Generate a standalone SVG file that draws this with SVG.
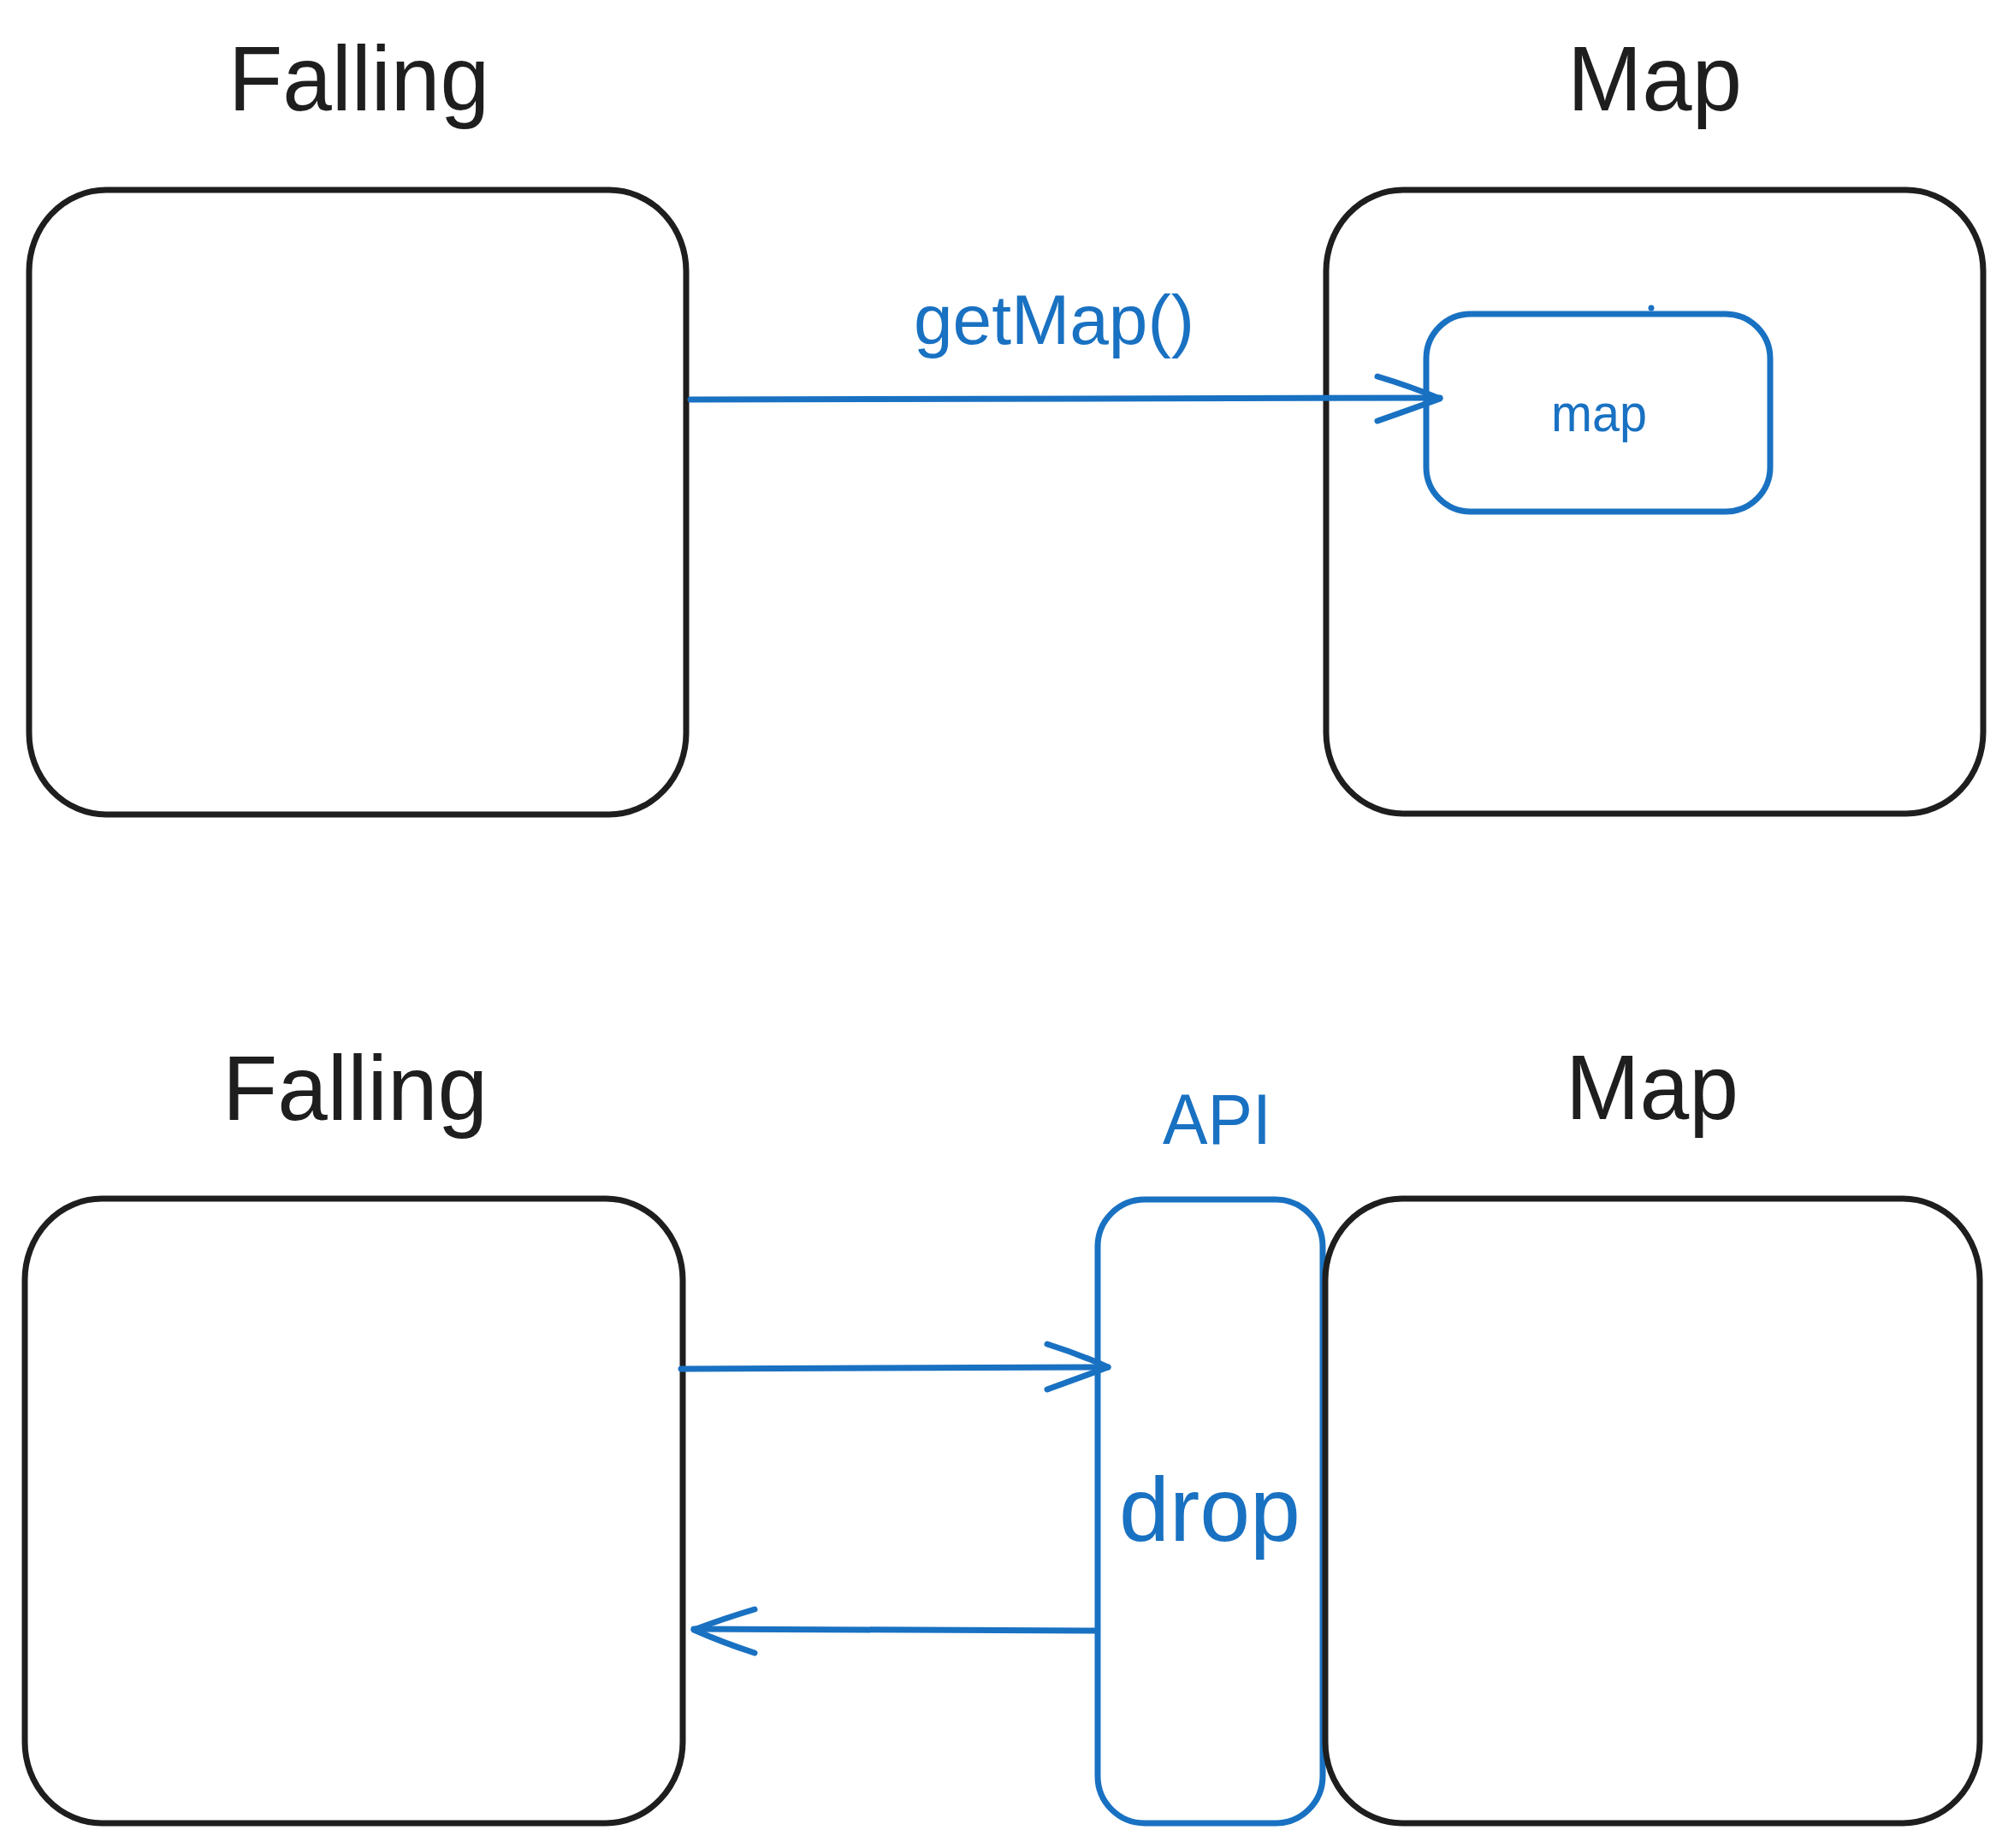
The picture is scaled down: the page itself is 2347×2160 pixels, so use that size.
<svg xmlns="http://www.w3.org/2000/svg" width="2347" height="2160" viewBox="0 0 2347 2160">
<style>
.bg{fill:#ffffff}
.box{fill:none;stroke:#1e1e1e;stroke-width:7;stroke-linejoin:round;stroke-linecap:round}
.bbox{fill:none;stroke:#1971c2;stroke-width:7;stroke-linejoin:round;stroke-linecap:round}
.title{font-family:"Liberation Sans",Arial,Helvetica,sans-serif;fill:#1e1e1e}
.blue{font-family:"Liberation Sans",Arial,Helvetica,sans-serif;fill:#1971c2}
.conn{fill:none;stroke:#1971c2;stroke-width:7;stroke-linecap:round;stroke-linejoin:round}
</style>
<rect class="bg" x="0" y="0" width="2347" height="2160"/>

<g id="falling-top">
  <rect class="box" x="34" y="222" width="768" height="730" rx="90" ry="95"/>
  <text class="title" x="267" y="129" font-size="108" textLength="305" lengthAdjust="spacingAndGlyphs">Falling</text>
</g>

<g id="map-top">
  <rect class="box" x="1550" y="222" width="768" height="729" rx="90" ry="95"/>
  <text class="title" x="1832" y="129" font-size="108" textLength="204" lengthAdjust="spacingAndGlyphs">Map</text>
</g>

<g id="map-inner">
  <rect class="bbox" x="1667" y="367" width="402" height="231" rx="52" ry="52"/>
  <text class="blue" x="1813" y="504" font-size="62" textLength="112" lengthAdjust="spacingAndGlyphs">map</text>
  <circle cx="1930" cy="360" r="3.5" fill="#1971c2"/>
</g>

<g id="falling-bottom">
  <rect class="box" x="29" y="1401" width="769" height="730" rx="90" ry="95"/>
  <text class="title" x="260" y="1309" font-size="108" textLength="310" lengthAdjust="spacingAndGlyphs">Falling</text>
</g>

<g id="api">
  <rect class="bbox" x="1283" y="1402" width="263" height="729" rx="55" ry="55"/>
  <text class="blue" x="1359" y="1337" font-size="84" textLength="127" lengthAdjust="spacingAndGlyphs">API</text>
  <text class="blue" x="1308" y="1801" font-size="106" textLength="212" lengthAdjust="spacingAndGlyphs">drop</text>
</g>

<g id="map-bottom">
  <rect class="box" x="1549" y="1401" width="765" height="730" rx="90" ry="95"/>
  <text class="title" x="1830" y="1308" font-size="108" textLength="202" lengthAdjust="spacingAndGlyphs">Map</text>
</g>

<g id="connectors">
  <path class="conn" d="M807 467 L1683 465"/>
  <path class="conn" d="M1610 440 Q1650 452 1683 466 Q1650 478 1610 492"/>
  <text class="blue" x="1068" y="402" font-size="82" textLength="328" lengthAdjust="spacingAndGlyphs">getMap()</text>

  <path class="conn" d="M796 1600 L1295 1598"/>
  <path class="conn" d="M1224 1571 Q1262 1583 1295 1598 Q1262 1610 1224 1624"/>

  <path class="conn" d="M1281 1906 L811 1904"/>
  <path class="conn" d="M882 1881 Q845 1892 811 1905 Q845 1920 882 1932"/>
</g>
</svg>
